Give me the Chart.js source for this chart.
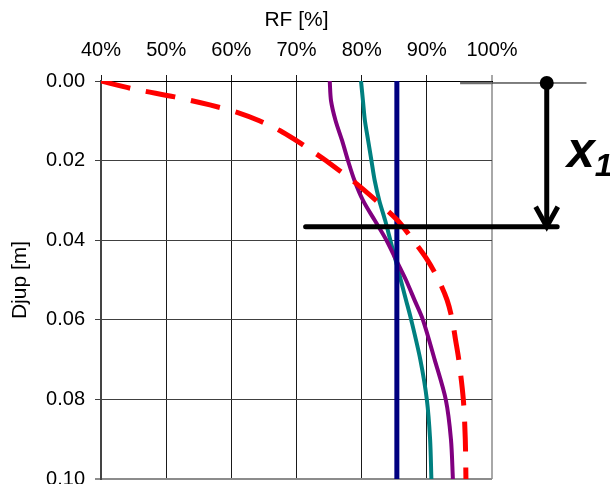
<!DOCTYPE html>
<html>
<head>
<meta charset="utf-8">
<script src="https://cdn.jsdelivr.net/npm/chart.js@4/dist/chart.umd.min.js"></script>
<style>
    body { margin: 0; background: #fff; }
    #wrap { position: relative; width: 610px; height: 484px; overflow: hidden; }
    #x1 {
        position: absolute; left: 567px; top: 125px;
        font: italic bold 50px "Liberation Sans", Arial, sans-serif;
        line-height: 50px; color: #000; white-space: nowrap;
    }
    #x1 sub { font-size: 32px; vertical-align: -9px; }
</style>
</head>
<body>
<div id="wrap">
    <canvas id="rfChart" width="610" height="484"></canvas>
    <div id="x1">x<sub>1</sub></div>
</div>
<script>
// depth [m] and RF [%]
const depthRed = [0, 0.002, 0.004, 0.006, 0.008, 0.010, 0.0125, 0.015, 0.0175, 0.020, 0.025, 0.030, 0.035, 0.040, 0.045, 0.050, 0.055, 0.060, 0.065, 0.070, 0.080, 0.090, 0.100];
const rfRed    = [40, 45, 51.3, 56.7, 61.1, 64.3, 67.5, 70.0, 72.3, 74.5, 78.6, 82.2, 85.5, 87.9, 90.1, 91.8, 93.1, 93.9, 94.4, 94.9, 95.6, 95.9, 96.0];

const depthPurple = [0, 0.005, 0.010, 0.015, 0.020, 0.025, 0.030, 0.035, 0.040, 0.045, 0.050, 0.055, 0.060, 0.070, 0.080, 0.090, 0.100];
const rfPurple    = [75.1, 75.3, 76.0, 77.0, 77.9, 78.9, 80.2, 82.0, 83.8, 85.3, 86.8, 88.1, 89.4, 91.2, 92.9, 93.7, 94.0];

const depthTeal = [0, 0.005, 0.010, 0.015, 0.020, 0.025, 0.030, 0.035, 0.040, 0.045, 0.050, 0.055, 0.060, 0.070, 0.080, 0.090, 0.100];
const rfTeal    = [79.9, 80.2, 80.5, 81.0, 81.5, 82.0, 82.7, 83.6, 84.4, 85.2, 86.0, 86.8, 87.6, 89.0, 90.0, 90.5, 90.7];

const depthNavy = [0, 0.100];
const rfNavy    = [85.4, 85.4];

// x1 marker (outside the plot, right side)
const markerRf = 108.4;
const markerTop = 0.0005;
const x1Depth = 0.0366;
const x1LineRf = [71.4, 110];
// listed right to left so the line controller does not treat it as sorted and trim it
const arrowHeadRf = [110.1, 108.4, 106.7];
const arrowHeadDepth = [0.0316, 0.0366, 0.0316];
const topExtRf = [100, 114.5];
const greyStubRf = [95.1, 100];

const xTicks = { min: 40, max: 100, step: 10 };
const yTicks = { min: 0, max: 0.1, step: 0.02 };

function toPoints(xs, ys) {
    return xs.map((x, i) => ({ x: x, y: ys[i] }));
}

function lineSet(data, color, width, order, extra) {
    return Object.assign({
        data: data,
        borderColor: color,
        backgroundColor: color,
        borderWidth: width,
        pointRadius: 0,
        showLine: true,
        fill: false,
        tension: 0.3,
        order: order
    }, extra || {});
}

Chart.defaults.font.family = '"Liberation Sans", Arial, sans-serif';
Chart.defaults.color = '#000';

const marker = { clip: false, tension: 0 };

const datasets = [
    // annotation
    lineSet(toPoints(topExtRf, [markerTop, markerTop]), '#000', 1, 0, marker),
    lineSet(toPoints(greyStubRf, [markerTop, markerTop]), '#6e6e6e', 2.5, 0, marker),
    lineSet(toPoints([markerRf, markerRf], [markerTop, x1Depth - 0.001]), '#000', 5, 0, marker),
    lineSet(toPoints(arrowHeadRf, arrowHeadDepth), '#000', 5, 0, Object.assign({ borderJoinStyle: 'miter' }, marker)),
    lineSet(toPoints(x1LineRf, [x1Depth, x1Depth]), '#000', 5, 0, Object.assign({ borderCapStyle: 'round' }, marker)),
    // round dot: a zero-length line with round caps (points outside the area are not drawn)
    lineSet(toPoints([markerRf, markerRf + 0.01], [markerTop, markerTop]), '#000', 14, 0, Object.assign({ borderCapStyle: 'round' }, marker)),
    // curves
    lineSet(toPoints(rfRed, depthRed), '#ff0000', 5, 1, { borderDash: [30, 16] }),
    lineSet(toPoints(rfNavy, depthNavy), '#000080', 5, 2, { tension: 0 }),
    lineSet(toPoints(rfPurple, depthPurple), '#800080', 4, 3),
    lineSet(toPoints(rfTeal, depthTeal), '#008080', 4, 4)
];

new Chart(document.getElementById('rfChart'), {
    type: 'scatter',
    data: { datasets: datasets },
    options: {
        responsive: false,
        animation: false,
        devicePixelRatio: 1,
        layout: { padding: { top: 0, left: 0, right: 118, bottom: 5 } },
        plugins: { legend: { display: false }, tooltip: { enabled: false } },
        scales: {
            x: {
                type: 'linear',
                position: 'top',
                min: xTicks.min,
                max: xTicks.max,
                ticks: {
                    stepSize: xTicks.step,
                    callback: v => v + '%',
                    font: { size: 20 },
                    padding: 13
                },
                title: { display: true, text: 'RF [%]', font: { size: 21 }, padding: { top: 8, bottom: 2 } },
                grid: {
                    color: c => c.tick && c.tick.value === 100 ? '#a8a8a8' : '#1a1a1a',
                    lineWidth: c => c.tick && c.tick.value === 100 ? 2 : 1,
                    tickLength: 6
                },
                border: { color: '#000', width: 1 },
                afterFit: s => { s.height = 81; s.paddingLeft = 0; s.paddingRight = 0; }
            },
            y: {
                type: 'linear',
                reverse: true,
                min: yTicks.min,
                max: yTicks.max,
                ticks: {
                    stepSize: yTicks.step,
                    callback: v => v.toFixed(2),
                    font: { size: 20 },
                    padding: 10
                },
                title: { display: true, text: 'Djup [m]', font: { size: 21 }, padding: { top: 8, bottom: 0 } },
                grid: {
                    color: c => c.tick && Math.abs(c.tick.value - 0.1) < 1e-9 ? '#8c8c8c' : '#404040',
                    lineWidth: c => c.tick && Math.abs(c.tick.value - 0.1) < 1e-9 ? 2 : 1,
                    tickLength: 6
                },
                border: { color: '#444', width: 2 },
                afterFit: s => { s.width = 101; s.paddingTop = 0; s.paddingBottom = 0; }
            }
        }
    }
});
</script>
</body>
</html>
